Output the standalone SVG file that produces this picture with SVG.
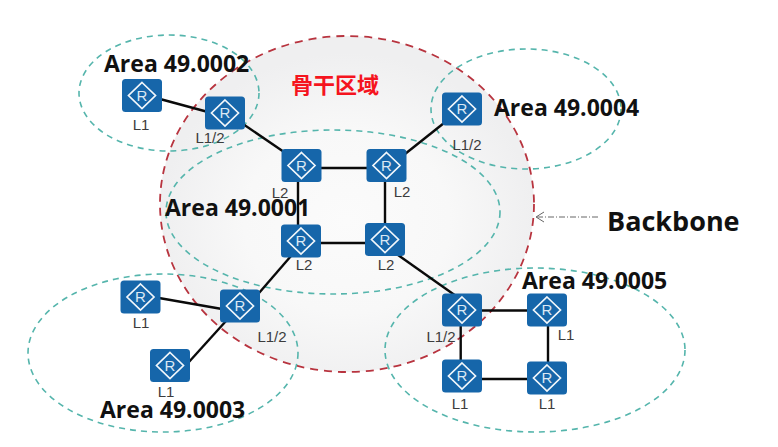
<svg xmlns="http://www.w3.org/2000/svg" width="778" height="447" viewBox="0 0 778 447">
<style>
.lk{stroke:#0a0a0a;stroke-width:2.4;fill:none}
.area{fill:none;stroke:#55b5ac;stroke-width:1.6;stroke-dasharray:6 5}
.box{fill:#1666aa}
.dm{fill:none;stroke:#f2f7fb;stroke-width:1.7}
.r{font-family:"Liberation Sans",Arial,sans-serif;font-size:15px;fill:#dce9f4;text-anchor:middle}
.lb{font-family:"Liberation Sans",Arial,sans-serif;font-size:15px;fill:#3c3c3c;text-anchor:middle}
.t{font-family:"Open Sans","Liberation Sans",Arial,sans-serif;font-weight:700;font-size:23px;fill:#111}
</style>
<defs>
<radialGradient id="bg" cx="0.5" cy="0.55" r="0.5"><stop offset="0" stop-color="#fbfbfb"/><stop offset="0.55" stop-color="#f8f8f8"/><stop offset="1" stop-color="#efeff0"/></radialGradient>
<g id="rt"><rect x="-20" y="-16.500" width="40" height="33" rx="3.500" class="box"/><path d="M0-13L13.500 0 0 13-13.500 0Z" class="dm"/><text y="5.300" class="r">R</text></g>
</defs>
<rect width="778" height="447" fill="#fff"/>
<ellipse id="backbone" cx="347" cy="204" rx="187" ry="168" fill="url(#bg)" stroke="#b8343f" stroke-width="1.800" stroke-dasharray="8 6"/>
<g id="areas">
<ellipse class="area" cx="169" cy="93" rx="90" ry="58"/>
<ellipse class="area" cx="333" cy="212" rx="167" ry="82"/>
<ellipse class="area" cx="163" cy="353" rx="135" ry="79"/>
<ellipse class="area" cx="535" cy="350" rx="150" ry="82"/>
<ellipse class="area" cx="526" cy="109" rx="95" ry="60"/>
</g>
<g id="connectors">
<path class="lk" d="M160 99L208 112"/>
<path class="lk" d="M243 124L284 152"/>
<path class="lk" d="M301 168H386"/>
<path class="lk" d="M444 123L405 154"/>
<path class="lk" d="M298 170V241"/>
<path class="lk" d="M385 170V240"/>
<path class="lk" d="M301 243H385"/>
<path class="lk" d="M291 256L259 293"/>
<path class="lk" d="M159 298L222 309"/>
<path class="lk" d="M226 321L188 363"/>
<path class="lk" d="M398 255L456 296"/>
<path class="lk" d="M462 310.500H547"/>
<path class="lk" d="M548 310V378"/>
<path class="lk" d="M460.700 310V376"/>
<path class="lk" d="M462 379H547"/>
<path d="M598 217H537" fill="none" stroke="#666" stroke-width="1" stroke-dasharray="6 2 1 2"/>
<path d="M544 212L536 217 544 222" fill="none" stroke="#666" stroke-width="1"/>
</g>
<g id="n1"><use href="#rt" x="142" y="95.500"/><text x="141" y="130" class="lb">L1</text></g>
<g id="n2"><use href="#rt" x="225" y="113"/><text x="210" y="143" class="lb">L1/2</text></g>
<g id="n3"><use href="#rt" x="301.500" y="165.500"/><text x="280" y="198" class="lb">L2</text></g>
<g id="n4"><use href="#rt" x="386.500" y="165.500"/><text x="402" y="197" class="lb">L2</text></g>
<g id="n5"><use href="#rt" x="462" y="109"/><text x="467" y="150" class="lb">L1/2</text></g>
<g id="n6"><use href="#rt" x="301" y="241"/><text x="304" y="270" class="lb">L2</text></g>
<g id="n7"><use href="#rt" x="385" y="239.500"/><text x="386" y="270" class="lb">L2</text></g>
<g id="n8"><use href="#rt" x="140.500" y="297"/><text x="141" y="328" class="lb">L1</text></g>
<g id="n9"><use href="#rt" x="240" y="306"/><text x="272" y="342" class="lb">L1/2</text></g>
<g id="n10"><use href="#rt" x="170" y="365.500"/><text x="166" y="397" class="lb">L1</text></g>
<g id="n11"><use href="#rt" x="462" y="310"/><text x="441" y="342" class="lb">L1/2</text></g>
<g id="n12"><use href="#rt" x="547" y="310"/><text x="566" y="340" class="lb">L1</text></g>
<g id="n13"><use href="#rt" x="462" y="376"/><text x="460" y="409" class="lb">L1</text></g>
<g id="n14"><use href="#rt" x="547" y="378"/><text x="547" y="409" class="lb">L1</text></g>
<g id="labels">
<text x="104" y="72" class="t">Area 49.0002</text>
<text x="494" y="116" class="t">Area 49.0004</text>
<text x="165" y="216" class="t">Area 49.0001</text>
<text x="100" y="418" class="t">Area 49.0003</text>
<text x="522" y="289" class="t">Area 49.0005</text>
<text x="607" y="231" class="t" style="font-size:27px">Backbone</text>
<text x="291" y="93" style="font-family:'Noto Sans CJK SC',sans-serif;font-weight:700;font-size:22px;fill:#f5141e">骨干区域</text>
</g>
</svg>
